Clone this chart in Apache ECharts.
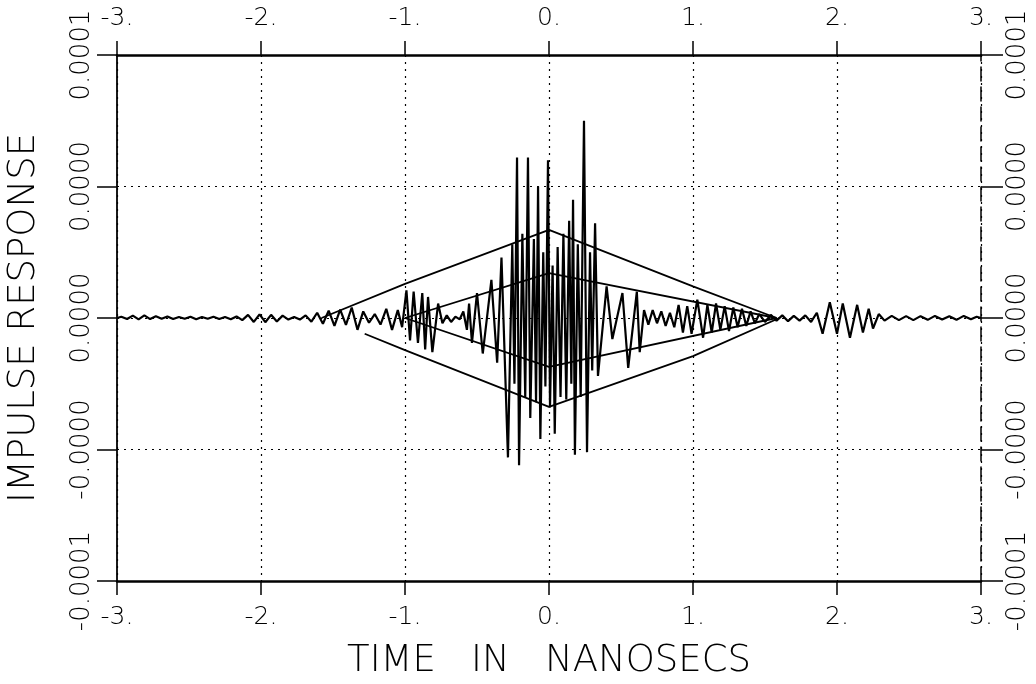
<!DOCTYPE html>
<html>
<head>
<meta charset="utf-8">
<script src="https://cdn.jsdelivr.net/npm/echarts@6/dist/echarts.min.js"></script>
<style>
  html, body { margin: 0; background: #fff; }
  #chart { width: 1036px; height: 684px; }
</style>
</head>
<body>
<div id="chart"></div>
<script>
// time axis (ns) and impulse response, response in units of 1e-5
const timeNs = [
  -3.00, -2.97, -2.93, -2.89, -2.85, -2.81, -2.77, -2.73, -2.69, -2.65,
  -2.61, -2.57, -2.53, -2.49, -2.45, -2.41, -2.37, -2.33, -2.29, -2.25,
  -2.21, -2.17, -2.13, -2.09, -2.05, -2.01, -1.97, -1.93, -1.89, -1.85,
  -1.81, -1.77, -1.73, -1.69, -1.65, -1.61, -1.57, -1.53, -1.49, -1.45,
  -1.41, -1.37, -1.33, -1.29, -1.25, -1.21, -1.17, -1.13, -1.09, -1.05,
  -1.02, -0.99, -0.965, -0.94, -0.91, -0.88, -0.86, -0.84, -0.81, -0.77,
  -0.74, -0.71, -0.68, -0.65, -0.62, -0.595, -0.57, -0.555, -0.535, -0.50,
  -0.46, -0.40, -0.36, -0.33, -0.285, -0.255, -0.240, -0.222, -0.208, -0.185,
  -0.165, -0.146, -0.130, -0.105, -0.090, -0.076, -0.060, -0.040, -0.025, -0.007,
  0.007, 0.025, 0.040, 0.060, 0.080, 0.100, 0.120, 0.140, 0.155, 0.167,
  0.180, 0.200, 0.220, 0.243, 0.264, 0.285, 0.300, 0.320, 0.340, 0.40,
  0.44, 0.51, 0.55, 0.61, 0.63, 0.66, 0.69, 0.72, 0.75, 0.78,
  0.81, 0.84, 0.87, 0.90, 0.93, 0.96, 0.99, 1.03, 1.07, 1.10,
  1.13, 1.16, 1.19, 1.22, 1.25, 1.28, 1.31, 1.34, 1.37, 1.40,
  1.43, 1.46, 1.50, 1.54, 1.58, 1.62, 1.66, 1.70, 1.74, 1.78,
  1.82, 1.86, 1.90, 1.95, 2.00, 2.04, 2.09, 2.14, 2.18, 2.22,
  2.25, 2.29, 2.33, 2.38, 2.43, 2.48, 2.53, 2.58, 2.63, 2.68,
  2.73, 2.78, 2.83, 2.88, 2.93, 2.97, 3.00
];
const responseE5 = [
  0.00, 0.05, -0.04, 0.09, -0.05, 0.10, -0.04, 0.07, -0.03, 0.06,
  -0.04, 0.04, -0.03, 0.05, -0.05, 0.04, -0.03, 0.05, -0.04, 0.04,
  -0.05, 0.06, -0.08, 0.12, -0.15, 0.14, -0.16, 0.12, -0.13, 0.09,
  -0.06, 0.04, -0.06, 0.10, -0.14, 0.20, -0.22, 0.28, -0.30, 0.32,
  -0.26, 0.40, -0.45, 0.25, -0.18, 0.15, -0.25, 0.35, -0.45, 0.30,
  -0.35, 1.05, -0.85, 1.00, -0.95, 0.95, -1.20, 0.80, -1.30, 0.55,
  -0.20, 0.10, -0.15, 0.05, -0.05, 0.25, -0.45, 0.55, -0.95, 0.95,
  -1.35, 1.45, -1.70, 2.30, -5.30, 2.80, -2.50, 6.10, -5.60, 3.20,
  -3.00, 6.10, -3.80, 3.00, -3.20, 5.00, -4.60, 2.50, -2.60, 6.00,
  -3.40, 2.00, -4.40, 2.70, -3.00, 3.20, -3.10, 3.70, -2.50, 4.50,
  -5.20, 2.80, -3.00, 7.50, -5.10, 2.50, -2.00, 3.60, -2.20, 1.20,
  -0.80, 0.95, -1.90, 1.00, -1.30, 0.30, -0.25, 0.30, -0.20, 0.25,
  -0.30, 0.20, -0.35, 0.50, -0.55, 0.45, -0.60, 0.70, -0.75, 0.50,
  -0.55, 0.55, -0.45, 0.45, -0.50, 0.40, -0.35, 0.35, -0.30, 0.25,
  -0.20, 0.15, -0.15, 0.12, -0.10, 0.10, -0.12, 0.08, -0.10, 0.10,
  -0.15, 0.20, -0.60, 0.60, -0.60, 0.55, -0.75, 0.50, -0.55, 0.35,
  -0.40, 0.15, -0.10, 0.08, -0.08, 0.07, -0.08, 0.07, -0.07, 0.08,
  -0.06, 0.07, -0.07, 0.08, -0.05, 0.05, 0.00
];

// envelope polylines [ns, 1e-5]
const outerUpper = [[-1.58, 0], [-1, 1.30], [0, 3.35], [1, 1.20], [1.58, 0]];
const outerLower = [[-1.28, -0.60], [-1, -1.22], [0, -3.38], [1, -1.45], [1.60, 0]];
const innerUpper = [[-1, 0], [0, 1.71], [1.58, 0]];
const innerLower = [[-1, 0], [0, -1.86], [1.58, 0]];

const xTickLabels = ['-3.', '-2.', '-1.', '0.', '1.', '2.', '3.'];
const yTickLabels = ['-0.0001', '-0.0000', '0.0000', '0.0000', '0.0001'];

const UNIT = 1e-5;
const FONT = '"DejaVu Sans", sans-serif';

const toPairs = (pts) => pts.map(p => [p[0], p[1] * UNIT]);
const signal = timeNs.map((t, i) => [t, responseE5[i] * UNIT]);

const chart = echarts.init(document.getElementById('chart'), null, { renderer: 'canvas' });

const lineSeries = (data, width) => ({
  type: 'line',
  data: data,
  showSymbol: false,
  animation: false,
  lineStyle: { color: '#000', width: width },
  xAxisIndex: 0,
  yAxisIndex: 0
});

const labelBase = { color: '#000', fontFamily: FONT, fontWeight: 200 };
const xLabel = (margin) => Object.assign({}, labelBase, {
  fontSize: 25,
  margin: margin,
  formatter: (v, i) => xTickLabels[i]
});
const yLabel = (margin) => Object.assign({}, labelBase, {
  fontSize: 26,
  rotate: 90,
  margin: margin,
  formatter: (v, i) => yTickLabels[i]
});
const nameStyle = Object.assign({}, labelBase, { fontSize: 37 });

const option = {
  backgroundColor: '#fff',
  animation: false,
  grid: { left: 117, right: 55, top: 55, bottom: 103, outerBoundsMode: 'none' },
  xAxis: [
    {
      type: 'value', position: 'bottom', min: -3, max: 3, interval: 1,
      name: 'TIME   IN   NANOSECS', nameLocation: 'middle', nameGap: 62,
      nameTextStyle: nameStyle,
      axisLine: { onZero: false, lineStyle: { color: '#000', width: 2.5 } },
      axisTick: { show: true, inside: false, length: 14, lineStyle: { color: '#000', width: 1.5 } },
      axisLabel: xLabel(24),
      splitLine: { show: true, lineStyle: { color: '#000', width: 1.2, type: [2, 5] } }
    },
    {
      type: 'value', position: 'top', min: -3, max: 3, interval: 1,
      axisLine: { onZero: false, lineStyle: { color: '#000', width: 2.5 } },
      axisTick: { show: true, inside: false, length: 14, lineStyle: { color: '#000', width: 1.5 } },
      axisLabel: xLabel(24),
      splitLine: { show: false }
    }
  ],
  yAxis: [
    {
      type: 'value', position: 'left', min: -1e-4, max: 1e-4, interval: 5e-5,
      name: 'IMPULSE RESPONSE', nameLocation: 'middle', nameGap: 74, nameRotate: 90,
      nameTextStyle: nameStyle,
      axisLine: { show: true, onZero: false, lineStyle: { color: '#000', width: 1.8 } },
      axisTick: { show: true, inside: false, length: 20, lineStyle: { color: '#000', width: 1.5 } },
      axisLabel: yLabel(22),
      splitLine: { show: true, lineStyle: { color: '#000', width: 1.2, type: [2, 5] } }
    },
    {
      type: 'value', position: 'right', min: -1e-4, max: 1e-4, interval: 5e-5,
      axisLine: { show: true, onZero: false, lineStyle: { color: '#000', width: 1.5, type: [14, 6] } },
      axisTick: { show: true, inside: false, length: 22, lineStyle: { color: '#000', width: 1.5 } },
      axisLabel: yLabel(24),
      splitLine: { show: false }
    }
  ],
  series: [
    lineSeries(toPairs(outerUpper), 1.8),
    lineSeries(toPairs(outerLower), 1.8),
    lineSeries(toPairs(innerUpper), 1.8),
    lineSeries(toPairs(innerLower), 1.8),
    lineSeries(signal, 2.2)
  ]
};

chart.setOption(option);
</script>
</body>
</html>
